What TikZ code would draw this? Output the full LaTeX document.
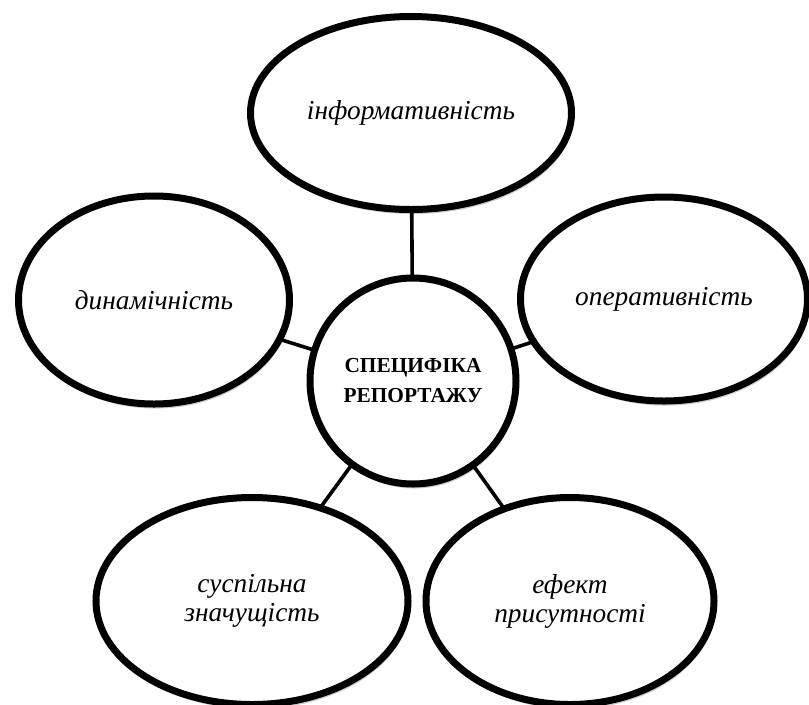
\documentclass[tikz,border=0pt]{standalone}
\usepackage{fontspec}
\setmainfont{Liberation Serif}
\usetikzlibrary{shapes.geometric,shadows,backgrounds}
\begin{document}
\begin{tikzpicture}[x=0.75pt,y=-0.75pt,
  bubble/.style={ellipse, draw=black, line width=5.25pt, fill=white, inner sep=0pt,
    align=center, font=\itshape\fontsize{20.5}{21.75}\selectfont,
    drop shadow={fill=black, opacity=0.2, shadow xshift=1.2pt, shadow yshift=-3.4pt}},
  hub/.style={circle, draw=black, line width=5.25pt, fill=white, inner sep=0pt,
    minimum size=154.5pt, align=center, font=\bfseries\fontsize{16}{22.5}\selectfont,
    drop shadow={fill=black, opacity=0.2, shadow xshift=1.2pt, shadow yshift=-3.4pt}},
  conn/.style={draw=black, line width=2.7pt}]
\useasboundingbox (0,0) rectangle (809,704);
\node[hub] (c) at (413,381) {СПЕЦИФІКА\\РЕПОРТАЖУ};
\node[bubble, minimum width=240.75pt, minimum height=144.75pt] (top) at (411,113) {інформативність};
\node[bubble, minimum width=203.25pt, minimum height=156pt] (left) at (154,300) {динамічність};
\node[bubble, minimum width=215.25pt, minimum height=153pt] (right) at (664,299) {оперативність};
\node[bubble, minimum width=234pt, minimum height=155.25pt] (bl) at (252,601) {суспільна\\значущість};
\node[bubble, minimum width=216pt, minimum height=155.25pt] (br) at (570,601) {ефект\\присутності};
\begin{pgfonlayer}{background}
\draw[conn] (c.center) -- (top.center);
\draw[conn] (c.center) -- (left.center);
\draw[conn] (c.center) -- (right.center);
\draw[conn] (c.center) -- (bl.center);
\draw[conn] (c.center) -- (br.center);
\end{pgfonlayer}
\end{tikzpicture}
\end{document}
